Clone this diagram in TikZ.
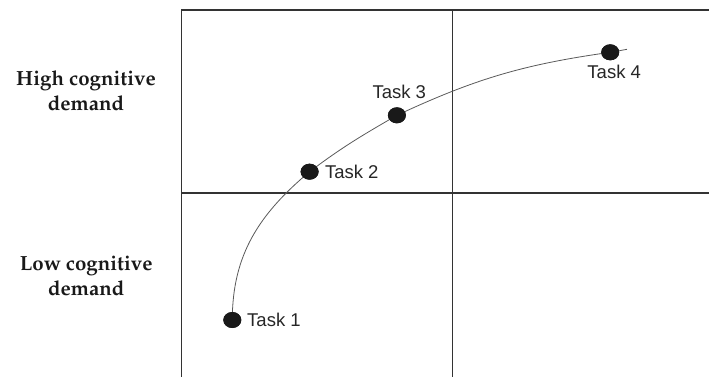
\documentclass[tikz,border=0pt]{standalone}
\usepackage[T1]{fontenc}
\usepackage{fontspec}
\setsansfont{Liberation Sans}
\usetikzlibrary{shapes.geometric}
\tikzset{
  gridline/.style={draw=black!80, line width=1.3pt},
  curveline/.style={draw=black!65, line width=0.8pt},
  taskdot/.style={ellipse, fill=black!90, draw=none, minimum width=18pt, minimum height=16pt, inner sep=0pt},
  tasklabel/.style={inner sep=0pt, font=\fontsize{18.5}{22}\sffamily, text=black!85},
  sidelabel/.style={inner sep=0pt, align=center, font=\fontencoding{T1}\fontfamily{ppl}\fontsize{20.5}{25}\bfseries\selectfont, text=black!90}
}
\begin{document}
\begin{tikzpicture}[x=1pt,y=1pt]
\useasboundingbox (0,0) rectangle (709,376);
\begin{scope}
\clip (0,0) rectangle (709,376);
\draw[gridline] (181.7,-10) rectangle (720,366);
\draw[gridline] (181.7,183) -- (720,183);
\draw[gridline] (452.5,-10) -- (452.5,366);
\end{scope}
\node[taskdot] (t1) at (232.3,56) {};
\node[taskdot] (t2) at (309.6,204.3) {};
\node[taskdot] (t3) at (396.9,260.7) {};
\node[taskdot] (t4) at (610.2,323.7) {};
\coordinate (cend) at (627,326.7);
\draw[curveline] (t1.center) to[out=90,in=220] (t2.center)
  to[out=37,in=210] (t3.center)
  to[out=25,in=188] (t4.center)
  to[out=8,in=190] (cend);
\node[taskdot] at (t1) {};
\node[taskdot] at (t2) {};
\node[taskdot] at (t3) {};
\node[taskdot] at (t4) {};
\node[tasklabel, anchor=west, xshift=5.5pt] (l1) at (t1.east) {Task 1};
\node[tasklabel, anchor=west, xshift=6pt] (l2) at (t2.east) {Task 2};
\node[tasklabel, anchor=south, xshift=2.4pt, yshift=8pt] (l3) at (t3.north) {Task 3};
\node[tasklabel, anchor=north, xshift=4pt, yshift=-4pt] (l4) at (t4.south) {Task 4};
\node[sidelabel] (high) at (86,285.4) {High cognitive\\demand};
\node[sidelabel] (low) at (86.2,100.5) {Low cognitive\\demand};
\end{tikzpicture}
\end{document}
